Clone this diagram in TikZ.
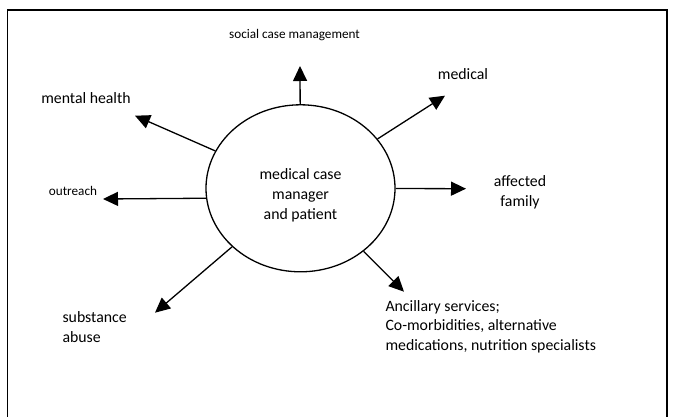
\documentclass[tikz,border=0pt]{standalone}
\usepackage{fontspec}
\setmainfont{Carlito}
\usetikzlibrary{arrows.meta,shapes.geometric}
\tikzset{
  lbl/.style={font=\fontsize{15.8}{19.8}\selectfont, align=center},
  smalllbl/.style={font=\fontsize{13.2}{16}\selectfont},
  hub/.style={draw, ellipse, line width=1.3pt, minimum width=189pt, minimum height=167pt, inner sep=0pt},
}
\begin{document}
\begin{tikzpicture}[x=1pt,y=-1pt]
      \useasboundingbox (0,0) rectangle (674,417);
      \draw[line width=1.5pt] (7.5,417) -- (7.5,10) -- (667,10) -- (667,417);
      \node[hub, label={[lbl,yshift=-6.7pt]center:{medical case\\manager\\and patient}}] (c) at (300.5,188.3) {};
      \draw
        (294.5,35) node[smalllbl] (soc){social case management}
        (463,74) node[lbl] (med){medical}
        (520,192) node[lbl] (aff){affected\\family}
        (382,326.7) node[lbl,align=left,anchor=west] (anc){Ancillary services;\\Co-morbidities, alternative\\medications, nutrition specialists}
        (59,326.7) node[lbl,align=left,anchor=west] (sub){substance\\abuse}
        (73,191) node[smalllbl] (out){outreach}
        (86,98.3) node[lbl] (men){mental health};
      \coordinate (socTip) at (300,66);
      \coordinate (medTip) at (445,95.7);
      \coordinate (affTip) at (466,188.7);
      \coordinate (ancTip) at (404,291.7);
      \coordinate (subTip) at (155,312.7);
      \coordinate (outTip) at (103,199);
      \coordinate (menTip) at (135,115.7);
      \begin{scope}[-{Triangle[length=15pt,width=14pt]}, line width=1.3pt]
        \draw (c) to (socTip);
        \draw (c) to (medTip);
        \draw (c) to (affTip);
        \draw (c) to (ancTip);
        \draw (c) to (subTip);
        \draw (c.186.5) to (outTip);
        \draw (c) to (menTip);
      \end{scope}
    \end{tikzpicture}
\end{document}
